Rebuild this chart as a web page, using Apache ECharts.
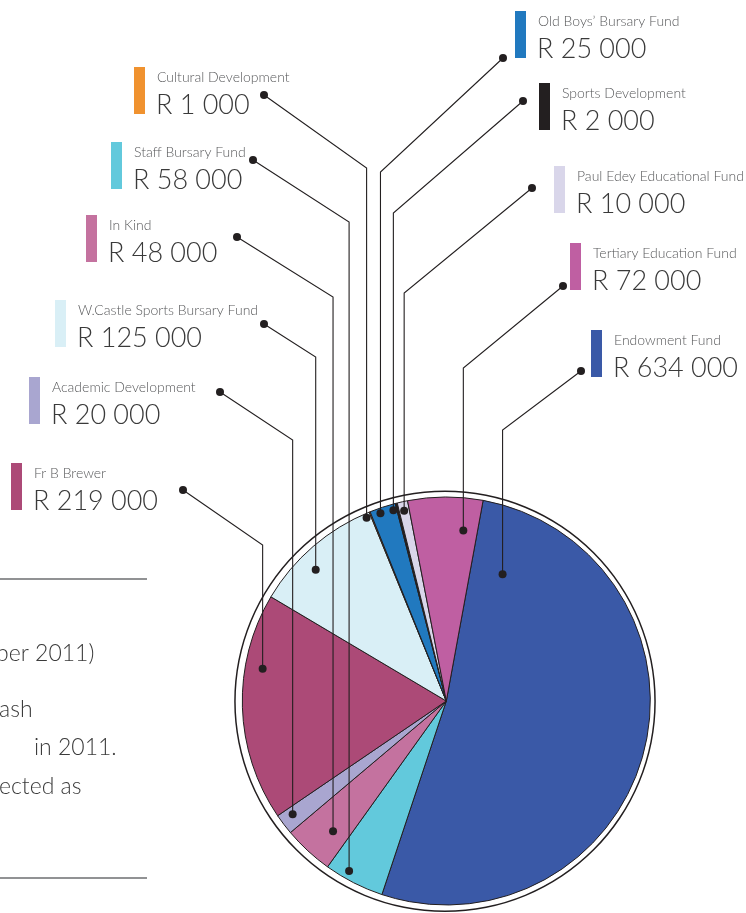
<!DOCTYPE html>
<html><head><meta charset="utf-8">
<script src="https://cdn.jsdelivr.net/npm/echarts@6/dist/echarts.min.js"></script>
<style>html,body{margin:0;padding:0;background:#fff}#c{width:746px;height:913px}</style>
</head><body><div id="c"></div>
<script>
// ---- data ----
const names = ['Endowment Fund','Staff Bursary Fund','In Kind','Academic Development','Fr B Brewer','W.Castle Sports Bursary Fund','Cultural Development','Old Boys\u2019 Bursary Fund','Sports Development','Paul Edey Educational Fund','Tertiary Education Fund'];
const values = [634000,58000,48000,20000,219000,125000,1000,25000,2000,10000,72000];
const colors = ['#3a59a7','#62c9dc','#c4729f','#a9a6d0','#ac4a77','#d9eff6','#f0922f','#2179bf','#231f20','#d9d6ea','#bf5fa2'];

// ---- layout (label placement, not data) ----
const labelBox = [[591,330],[111,142],[86,215],[29,377],[11,463],[55,300],[134,67],[515,11],[539,83],[554,166],[570,243]];
const labelDot = [[581,371],[253,160],[237,237],[220,392],[183,490],[264,324],[264,95],[503,58],[523,101],[532,188],[563,286]];
const elbowY = [430,222,297,440,545,357,168,172,213,293,368];
const anchorT = [0.072,0.66,0.38,0.63,0.68,0.39,-4.3,0.35,-1.7,0.48,0.78];
const anchorR = [0.68,0.96,0.846,0.936,0.914,0.908,0.98,0.975,0.97,0.955,0.84];

const CX = 446.3, CY = 701, R = 204;
const START = 10.4; // degrees clockwise from 12 o'clock
const INK = '#231f20';
const FONT = 'Lato, "Open Sans", sans-serif';

function fmt(v){ return 'R ' + String(v).replace(/\B(?=(\d{3})+(?!\d))/g, ' '); }

const total = values.reduce((a,b)=>a+b,0);
const startDeg = [];
(function(){ let a = START; values.forEach(v=>{ startDeg.push(a); a += v/total*360; }); })();

const chart = echarts.init(document.getElementById('c'), null, {renderer:'canvas'});
chart.setOption({
  animation:false,
  backgroundColor:'#ffffff',
  graphic:[
    {type:'line', shape:{x1:0,y1:579,x2:147,y2:579}, style:{stroke:'#6d6e71', lineWidth:1.5}},
    {type:'line', shape:{x1:0,y1:878,x2:147,y2:878}, style:{stroke:'#6d6e71', lineWidth:1.5}},
    {type:'text', style:{x:-4, y:665, text:'ber 2011)', font:'300 23px '+FONT, fill:'#3a3a3a', verticalAlign:'bottom'}},
    {type:'text', style:{x:-1, y:721, text:'ash', font:'300 23px '+FONT, fill:'#3a3a3a', verticalAlign:'bottom'}},
    {type:'text', style:{x:34, y:759, text:'in 2011.', font:'300 23px '+FONT, fill:'#3a3a3a', verticalAlign:'bottom'}},
    {type:'text', style:{x:-1, y:798, text:'ected as', font:'300 23px '+FONT, fill:'#3a3a3a', verticalAlign:'bottom'}}
  ],
  series:[
    {
      type:'pie', silent:true, center:[445,701.3], radius:[209.3,210.8],
      label:{show:false}, labelLine:{show:false},
      itemStyle:{color:INK}, data:[{value:1,name:'ring'}], z:1
    },
    {
      type:'pie', center:[CX,CY], radius:[0,R], startAngle:90-START, clockwise:true,
      silent:true, label:{show:false}, labelLine:{show:false},
      emphasis:{disabled:true}, avoidLabelOverlap:false, minAngle:0,
      itemStyle:{borderColor:INK, borderWidth:1},
      data: names.map((n,i)=>({name:n, value:values[i], itemStyle:{color:colors[i]}})),
      z:2
    },
    {
      type:'custom', coordinateSystem:'none', silent:true, z:5,
      data: names.map((n,i)=>[i, values[i]]),
      renderItem: function(params, api){
        const i = params.dataIndex;
        const span = values[i]/total*360;
        const th = (startDeg[i] + anchorT[i]*span) * Math.PI/180;
        const ax = CX + R*anchorR[i]*Math.sin(th);
        const ay = CY - R*anchorR[i]*Math.cos(th);
        const bx = labelBox[i][0], by = labelBox[i][1];
        const d = labelDot[i];
        return {
          type:'group',
          children:[
            {type:'polyline', shape:{points:[[ax,ay],[ax,elbowY[i]],[d[0],d[1]]]}, style:{stroke:INK, lineWidth:1.1, fill:null}},
            {type:'circle', shape:{cx:ax, cy:ay, r:4}, style:{fill:INK}},
            {type:'circle', shape:{cx:d[0], cy:d[1], r:4}, style:{fill:INK}},
            {type:'rect', shape:{x:bx, y:by, width:11, height:47}, style:{fill:colors[i]}},
            {type:'text', style:{x:bx+23, y:by+17, text:names[i], font:'300 14px '+FONT, fill:'#58595b', verticalAlign:'bottom'}},
            {type:'text', style:{x:bx+22, y:by+52, text:fmt(values[i]), font:'300 27px '+FONT, fill:'#3a3a3a', verticalAlign:'bottom'}}
          ]
        };
      }
    }
  ]
});
</script></body></html>
